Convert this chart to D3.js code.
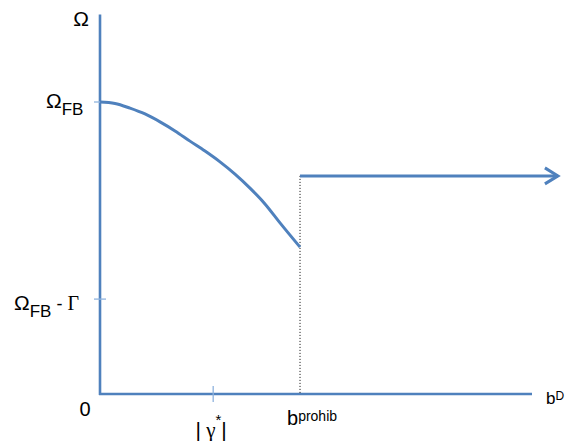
<!DOCTYPE html>
<html>
<head>
<meta charset="utf-8">
<script src="https://cdn.jsdelivr.net/npm/d3@7"></script>
<style>
  html, body { margin: 0; padding: 0; background: #fff; }
  svg { display: block; }
  text { font-family: "Liberation Sans", Arial, sans-serif; fill: #000; }
  .serif { font-family: "Liberation Serif", "Times New Roman", serif; }
</style>
</head>
<body>
<svg id="chart" width="569" height="441"></svg>
<script>
// Axis extents (model units)
const xMax = 10;
const yMax = 13;

// Marked positions on the axes
const gammaStar = 2.62;   // |γ*|
const bProhib = 4.63;     // b^prohib
const omegaFB = 10;       // Ω_FB
const omegaFBminusGamma = 3.25; // Ω_FB − Γ

// Welfare curve for b below the prohibitive level
const curveX = [0, 0.347, 0.694, 1.042, 1.389, 1.736, 2.083, 2.431, 2.778, 3.125, 3.472, 3.819, 4.167, 4.63];
const curveY = [10, 9.95, 9.79, 9.59, 9.32, 9.01, 8.66, 8.32, 7.95, 7.53, 7.05, 6.51, 5.86, 5.03];

// Flat segment once b exceeds the prohibitive level
const flatLevel = 7.47;
const flatEnd = 10.6;

const blue = "#4F81BD";
const tickBlue = "#8FB3DE";

const svg = d3.select("#chart");

const x = d3.scaleLinear().domain([0, xMax]).range([100, 532]);
const y = d3.scaleLinear().domain([0, omegaFB]).range([394, 102]);

// Axes
svg.append("line")
  .attr("x1", x(0)).attr("x2", x(0))
  .attr("y1", y(0) + 1).attr("y2", y(yMax))
  .attr("stroke", blue).attr("stroke-width", 2.6);
svg.append("line")
  .attr("x1", x(0) - 1).attr("x2", x(xMax))
  .attr("y1", y(0)).attr("y2", y(0))
  .attr("stroke", blue).attr("stroke-width", 2.6);

// Tick marks
[omegaFB, omegaFBminusGamma].forEach(v => {
  svg.append("line")
    .attr("x1", x(0) - 6).attr("x2", x(0) + 6)
    .attr("y1", y(v)).attr("y2", y(v))
    .attr("stroke", tickBlue).attr("stroke-width", 1.3);
});
svg.append("line")
  .attr("x1", x(gammaStar)).attr("x2", x(gammaStar))
  .attr("y1", y(0) - 8).attr("y2", y(0) + 8)
  .attr("stroke", tickBlue).attr("stroke-width", 1.3);

// Dotted guide at the prohibitive level
svg.append("line")
  .attr("x1", x(bProhib)).attr("x2", x(bProhib))
  .attr("y1", y(flatLevel)).attr("y2", y(0))
  .attr("stroke", "#000").attr("stroke-width", 1)
  .attr("stroke-dasharray", "1,2");

// Welfare curve
const pts = curveX.map((v, i) => [v, curveY[i]]);
svg.append("path")
  .datum(pts)
  .attr("fill", "none")
  .attr("stroke", blue)
  .attr("stroke-width", 3)
  .attr("d", d3.line().x(d => x(d[0])).y(d => y(d[1])).curve(d3.curveMonotoneX));

// Flat segment with open arrowhead
svg.append("line")
  .attr("x1", x(bProhib)).attr("x2", x(flatEnd))
  .attr("y1", y(flatLevel)).attr("y2", y(flatLevel))
  .attr("stroke", blue).attr("stroke-width", 3);
const ax = x(flatEnd), ay = y(flatLevel);
svg.append("path")
  .attr("d", `M${ax - 13},${ay - 8} L${ax},${ay} L${ax - 13},${ay + 8}`)
  .attr("fill", "none").attr("stroke", blue).attr("stroke-width", 3)
  .attr("stroke-linejoin", "miter");

// Labels
svg.append("text").attr("x", 89).attr("y", 26)
  .attr("text-anchor", "end").style("font-size", "21px").text("Ω");

const lFB = svg.append("text").attr("x", 46).attr("y", 108).style("font-size", "21px");
lFB.append("tspan").text("Ω");
lFB.append("tspan").attr("dy", 7).style("font-size", "17px").text("FB");

const lFBG = svg.append("text").attr("x", 14).attr("y", 310).style("font-size", "21px");
lFBG.append("tspan").text("Ω");
lFBG.append("tspan").attr("dy", 7).style("font-size", "17px").text("FB");
lFBG.append("tspan").attr("dy", -7).style("font-size", "18px").text(" - ");
lFBG.append("tspan").attr("class", "serif").style("font-size", "20px").text("Γ");

svg.append("text").attr("x", 85).attr("y", 416)
  .attr("text-anchor", "middle").style("font-size", "20px").text("0");

const lG = svg.append("text").attr("x", x(gammaStar) - 2).attr("y", 437)
  .attr("text-anchor", "middle").style("font-size", "21px");
lG.append("tspan").text("|");
lG.append("tspan").attr("class", "serif").text(" γ");
lG.append("tspan").attr("dy", -12).style("font-size", "15px").text("*");
lG.append("tspan").attr("dy", 12).text("|");

const lB = svg.append("text").attr("x", 287).attr("y", 425).style("font-size", "20px");
lB.append("tspan").text("b");
lB.append("tspan").attr("dy", -4).style("font-size", "14px").text("prohib");

const lD = svg.append("text").attr("x", 546).attr("y", 404).style("font-size", "17px");
lD.append("tspan").text("b");
lD.append("tspan").attr("dy", -4).style("font-size", "12px").text("D");
</script>
</body>
</html>
